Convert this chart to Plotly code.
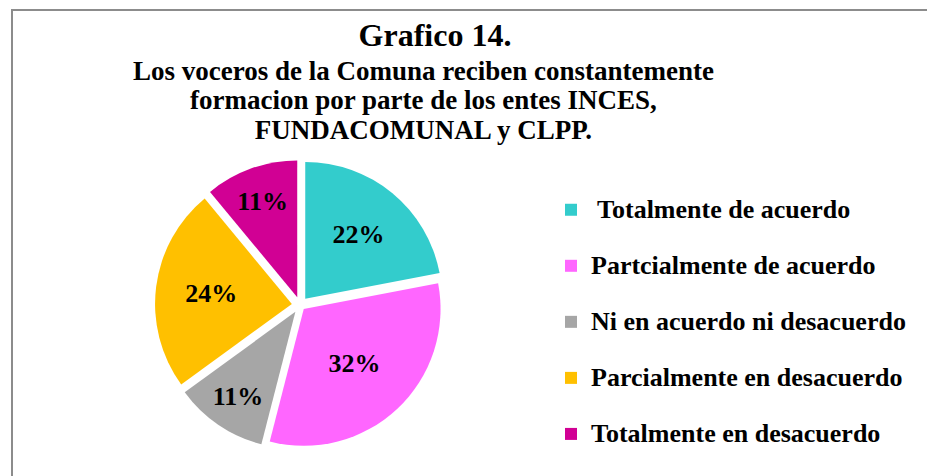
import plotly.graph_objects as go

categories = [" Totalmente de acuerdo", "Partcialmente de acuerdo", "Ni en acuerdo ni desacuerdo",
              "Parcialmente en desacuerdo", "Totalmente en desacuerdo"]
values = [22, 32, 11, 24, 11]
colors = ["#33CCCC", "#FF66FF", "#A6A6A6", "#FFC000", "#D10094"]

# page body has an 8px margin: figure is 8px smaller and coordinates are shifted
OFF = 8
W, H = 935 - OFF, 476 - OFF
FONT = "Liberation Serif"


def X(px):
    return (px - OFF) / W


def Y(py):
    return 1 - (py - OFF) / H


legend_labels = []
for i, c in enumerate(categories):
    lab = "<span style='font-size:26px'>" + c + "</span>"
    if i < len(categories) - 1:
        lab += "<br> "
    legend_labels.append(lab)

fig = go.Figure(go.Pie(
    labels=legend_labels,
    values=values,
    sort=False,
    direction="clockwise",
    rotation=0,
    marker=dict(colors=colors, line=dict(color="white", width=0)),
    pull=[0.06, 0.04, 0.06, 0.06, 0.06],
    textinfo="percent",
    textposition="inside",
    insidetextorientation="horizontal",
    textfont=dict(family=FONT, size=26, color="black", weight="bold"),
    domain=dict(x=[X(300 - 150), X(300 + 150)], y=[Y(450), Y(160)]),
    hoverinfo="percent",
))

fig.update_layout(
    width=W, height=H,
    margin=dict(l=0, r=0, t=0, b=0),
    paper_bgcolor="white",
    plot_bgcolor="white",
    font=dict(family=FONT, color="black"),
    title=dict(text="Grafico 14.", x=X(435), xanchor="center", y=Y(35), yanchor="middle",
               font=dict(family=FONT, size=32, weight="bold")),
    legend=dict(x=X(551), y=Y(190), xanchor="left", yanchor="top",
                font=dict(family=FONT, size=20.4, weight="bold"), valign="top",
                itemwidth=30, bgcolor="rgba(0,0,0,0)"),
    showlegend=True,
)

fig.add_annotation(
    text="<span style='font-size:27px'>Los voceros de la Comuna reciben constantemente<br>"
         "formacion por parte de los entes INCES,<br>FUNDACOMUNAL y CLPP.</span>",
    x=X(423), y=Y(101), xref="paper", yref="paper", xanchor="center", yanchor="middle",
    showarrow=False, font=dict(family=FONT, size=22.5, weight="bold"), align="center",
)

fig.add_shape(type="line", xref="paper", yref="paper", x0=X(11), x1=1, y0=Y(10), y1=Y(10),
              line=dict(color="#8C8C8C", width=2))
fig.add_shape(type="line", xref="paper", yref="paper", x0=X(12), x1=X(12), y0=Y(10), y1=0,
              line=dict(color="#8C8C8C", width=2))

fig.write_html("out.html")
